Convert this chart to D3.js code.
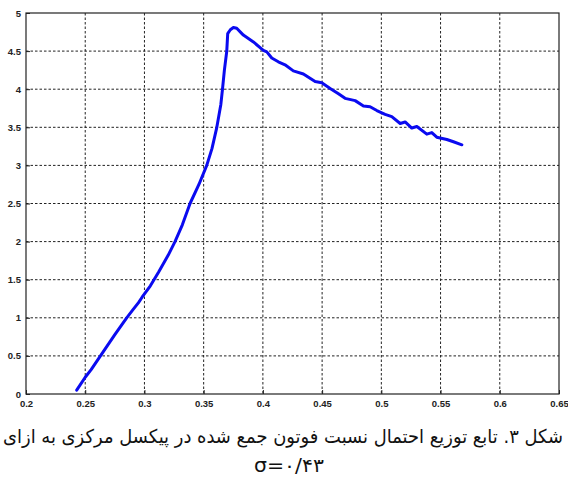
<!DOCTYPE html>
<html><head><meta charset="utf-8">
<script src="https://cdn.jsdelivr.net/npm/d3@7"></script>
<style>body{margin:0;background:#fff}svg{display:block}</style>
</head><body>
<svg id="c" width="568" height="477"></svg>
<script>
const xTicks = [0.2,0.25,0.3,0.35,0.4,0.45,0.5,0.55,0.6,0.65];
const yTicks = [0,0.5,1,1.5,2,2.5,3,3.5,4,4.5,5];
const xVals = [0.2428,0.25,0.255,0.265,0.275,0.285,0.29,0.295,0.298,0.305,0.312,0.32,0.3258,0.332,0.3385,0.346,0.3526,0.357,0.3611,0.3645,0.3659,0.3675,0.3695,0.3703,0.3725,0.3751,0.3779,0.3835,0.392,0.4004,0.4033,0.4075,0.413,0.4187,0.4257,0.4342,0.4441,0.4497,0.4568,0.4638,0.4694,0.4779,0.4849,0.4905,0.4962,0.5032,0.5088,0.5159,0.5201,0.5257,0.53,0.5384,0.5426,0.5468,0.5553,0.5609,0.568];
const yVals = [0.05,0.22,0.32,0.55,0.78,1.0,1.1,1.2,1.27,1.42,1.6,1.82,2.0,2.22,2.5,2.75,3.0,3.22,3.5,3.8,4.0,4.25,4.5,4.73,4.78,4.81,4.80,4.71,4.62,4.51,4.49,4.41,4.36,4.32,4.24,4.20,4.10,4.085,4.01,3.94,3.88,3.85,3.78,3.77,3.72,3.67,3.64,3.55,3.57,3.49,3.51,3.41,3.43,3.37,3.34,3.31,3.27];
const captionLine1 = "شکل ۳. تابع توزیع احتمال نسبت فوتون جمع شده در پیکسل مرکزی به ازای";
const captionLine2 = "σ=۰/۴۳";

const svg = d3.select("#c");
const L=26, R=559, T=13, B=394;
const x = d3.scaleLinear().domain([0.2,0.65]).range([L,R]);
const y = d3.scaleLinear().domain([0,5]).range([B,T]);

// grid
const g = svg.append("g");
g.selectAll("line.vx").data(xTicks.slice(1,-1)).join("line")
  .attr("x1",d=>x(d)).attr("x2",d=>x(d)).attr("y1",T).attr("y2",B)
  .attr("stroke","#222").attr("stroke-width",1).attr("stroke-dasharray","2.5,2");
g.selectAll("line.hy").data(yTicks.slice(1,-1)).join("line")
  .attr("y1",d=>y(d)).attr("y2",d=>y(d)).attr("x1",L).attr("x2",R)
  .attr("stroke","#222").attr("stroke-width",1).attr("stroke-dasharray","2.5,2");

// box
svg.append("rect").attr("x",L).attr("y",T).attr("width",R-L).attr("height",B-T)
  .attr("fill","none").attr("stroke","#222").attr("stroke-width",1.2);

// axes
const fmt = d=>String(d);
const xa = svg.append("g").attr("transform",`translate(0,${B})`)
  .call(d3.axisBottom(x).tickValues(xTicks).tickFormat(fmt).tickSize(-4).tickPadding(6));
const ya = svg.append("g").attr("transform",`translate(${L},0)`)
  .call(d3.axisLeft(y).tickValues(yTicks).tickFormat(fmt).tickSize(-4).tickPadding(5));
[xa,ya].forEach(a=>{
  a.select(".domain").remove();
  a.selectAll(".tick line").attr("stroke","#222");
  a.selectAll("text").attr("font-family","Liberation Sans, Arial, sans-serif")
    .attr("font-size",9.5).attr("fill","#222").attr("font-weight","bold");
});

// line
const data = xVals.map((v,i)=>[v,yVals[i]]);
svg.append("path").datum(data)
  .attr("d", d3.line().x(d=>x(d[0])).y(d=>y(d[1])))
  .attr("fill","none").attr("stroke","#0a0af0").attr("stroke-width",3)
  .attr("stroke-linejoin","round").attr("stroke-linecap","round");

// caption
svg.append("text").attr("x",283).attr("y",443).attr("text-anchor","middle")
  .attr("direction","rtl").attr("font-family","DejaVu Sans, sans-serif")
  .attr("font-size",19).attr("fill","#111")
  .attr("textLength",560).attr("lengthAdjust","spacingAndGlyphs").text(captionLine1);
svg.append("text").attr("x",289).attr("y",472).attr("text-anchor","middle")
  .attr("font-family","DejaVu Sans, sans-serif")
  .attr("font-size",19).attr("fill","#111")
  .attr("textLength",70).attr("lengthAdjust","spacingAndGlyphs").text(captionLine2);
</script>
</body></html>
